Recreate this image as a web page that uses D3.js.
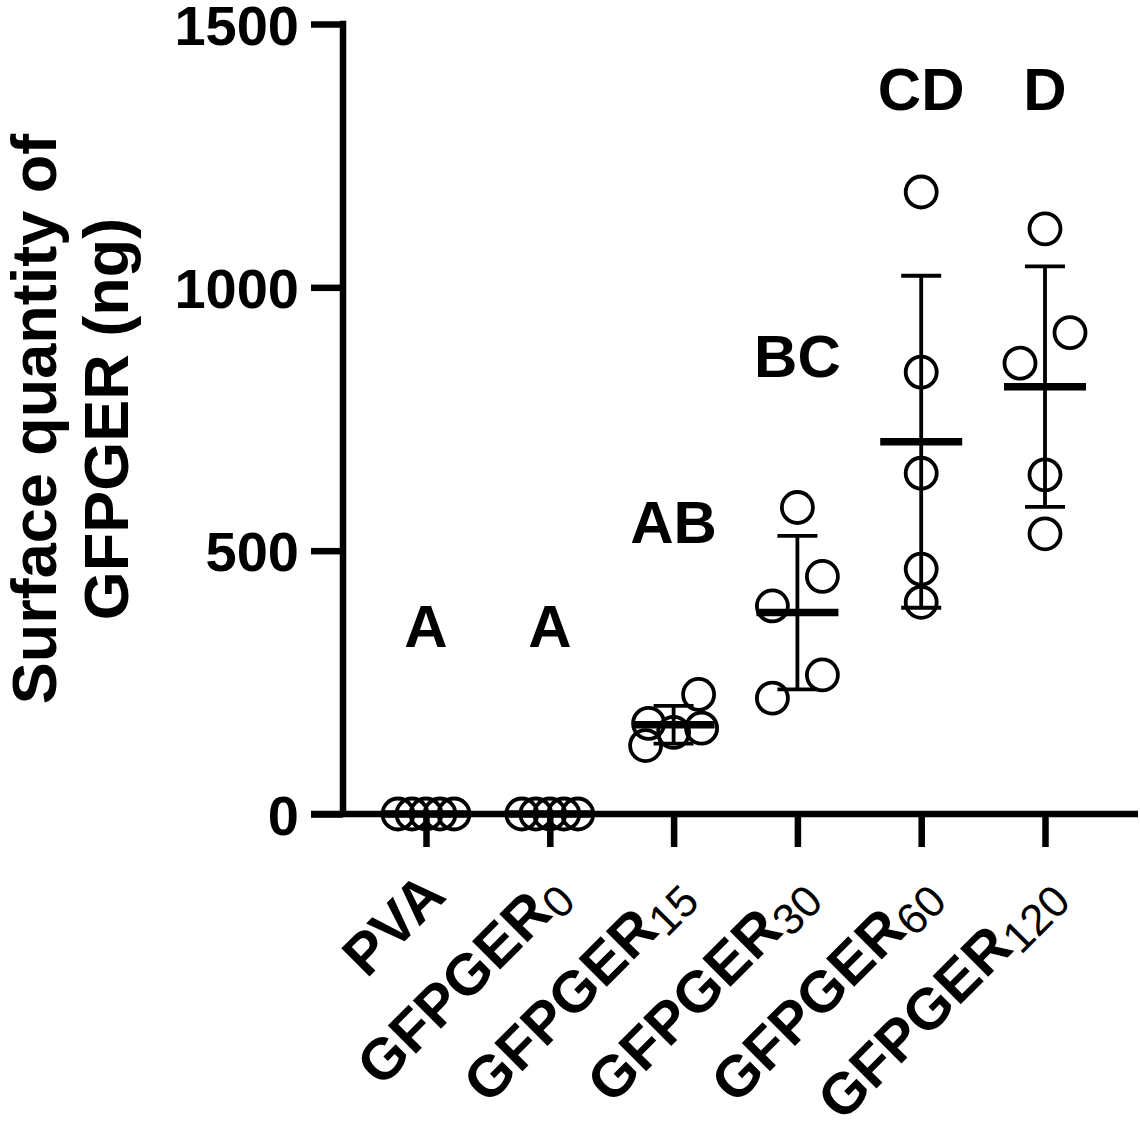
<!DOCTYPE html>
<html>
<head>
<meta charset="utf-8">
<script src="https://cdn.jsdelivr.net/npm/d3@7"></script>
<style>
  body { margin: 0; background: #fff; }
  svg { display: block; font-family: Arial, 'Liberation Sans', sans-serif; }
</style>
</head>
<body>
<svg width="1140" height="1126"></svg>
<script>
(function (d3) {
  'use strict';

  // groups and their replicate values (ng)
  const groupNames = ['PVA', 'GFPGER', 'GFPGER', 'GFPGER', 'GFPGER', 'GFPGER'];
  const groupSubs = ['', '0', '15', '30', '60', '120'];
  const pva = [0, 0, 0, 0, 0];
  const gfpger0 = [0, 0, 0, 0, 0];
  const gfpger15 = [227, 172, 163, 155, 130];
  const gfpger30 = [582, 451, 395, 264, 220];
  const gfpger60 = [1181, 839, 647, 465, 402];
  const gfpger120 = [1111, 914, 856, 644, 532];
  const sigLetters = ['A', 'A', 'AB', 'BC', 'CD', 'D'];
  const sigHeights = [317, 317, 514, 830, 1337, 1337];
  const yTicks = [0, 500, 1000, 1500];
  const yTitle = ['Surface quantity of', 'GFPGER (ng)'];

  const data = [pva, gfpger0, gfpger15, gfpger30, gfpger60, gfpger120]
    .map((values, i) => ({
      key: groupNames[i] + groupSubs[i],
      values,
      mean: d3.mean(values),
      sd: d3.deviation(values) || 0,
      letter: sigLetters[i],
      letterY: sigHeights[i]
    }));

  const svg = d3.select('svg');
  const axisW = 6.5;
  const lineW = 3.8;
  const r = 15.5;

  const xScale = d3.scalePoint()
    .domain(data.map(d => d.key))
    .range([426, 1045]);

  const yScale = d3.scaleLinear()
    .domain([0, 1500])
    .range([814, 24]);

  // spread points that sit at about the same height (prism-style scatter)
  const spread = values => {
    const order = d3.range(values.length)
      .sort((a, b) => values[b] - values[a]);
    const offsets = new Array(values.length).fill(0);
    let bin = [];
    const flush = () => {
      const n = bin.length;
      if (n > 1) {
        const step = Math.min(50, 56 / (n - 1));
        bin.forEach((idx, k) => {
          offsets[idx] = ((n - 1) / 2 - k) * step;
        });
      }
      bin = [];
    };
    order.forEach(idx => {
      if (bin.length && yScale(values[idx]) - yScale(values[bin[0]]) > 31.5) flush();
      bin.push(idx);
    });
    flush();
    return offsets;
  };

  // y axis
  const yAxisG = svg.append('g')
    .attr('class', 'y-axis')
    .attr('transform', 'translate(343,0)')
    .call(d3.axisLeft(yScale)
      .tickValues(yTicks)
      .tickFormat(d3.format('d'))
      .tickSize(32)
      .tickSizeOuter(0)
      .tickPadding(12));

  yAxisG.select('.domain')
    .attr('stroke', '#000')
    .attr('stroke-width', axisW)
    .attr('d', `M0,${yScale(0)}V${yScale(1500) - axisW / 2}`);
  yAxisG.selectAll('.tick line')
    .attr('stroke', '#000')
    .attr('stroke-width', axisW);
  yAxisG.selectAll('.tick text')
    .attr('fill', '#000')
    .attr('font-size', 56)
    .attr('font-weight', 'bold')
    .attr('dy', '0.36em');

  // x axis
  svg.append('line')
    .attr('x1', 311)
    .attr('x2', 1138)
    .attr('y1', yScale(0))
    .attr('y2', yScale(0))
    .attr('stroke', '#000')
    .attr('stroke-width', axisW);

  const xAxisG = svg.append('g')
    .attr('class', 'x-axis')
    .attr('transform', `translate(0,${yScale(0)})`)
    .call(d3.axisBottom(xScale).tickSize(33).tickSizeOuter(0));

  xAxisG.select('.domain').remove();
  xAxisG.selectAll('.tick line')
    .attr('stroke', '#000')
    .attr('stroke-width', axisW);
  xAxisG.selectAll('.tick text').remove();

  const xLabels = svg.append('g')
    .selectAll('text')
    .data(data)
    .enter().append('text')
    .attr('text-anchor', 'end')
    .attr('font-size', 58)
    .attr('font-weight', 'bold')
    .attr('fill', '#000')
    .attr('transform', d => `translate(${xScale(d.key) + 22},898) rotate(-45)`);

  xLabels.append('tspan')
    .text((d, i) => groupNames[i]);
  xLabels.append('tspan')
    .attr('font-size', 44)
    .attr('font-weight', 'normal')
    .attr('dy', 8)
    .text((d, i) => groupSubs[i]);

  // y axis title
  svg.append('text')
    .attr('transform', `translate(0,${(yScale(0) + yScale(1500)) / 2}) rotate(-90)`)
    .attr('text-anchor', 'middle')
    .attr('font-size', 63)
    .attr('font-weight', 'bold')
    .attr('fill', '#000')
    .selectAll('tspan')
    .data(yTitle)
    .enter().append('tspan')
    .attr('x', 0)
    .attr('y', (d, i) => 56 + i * 72)
    .text(d => d);

  // groups
  const groups = svg.append('g')
    .selectAll('g')
    .data(data)
    .enter().append('g')
    .attr('transform', d => `translate(${xScale(d.key)},0)`);

  groups.each(function (d) {
    const g = d3.select(this);
    const offs = spread(d.values);

    g.selectAll('circle')
      .data(d.values)
      .enter().append('circle')
      .attr('cx', (v, i) => offs[i])
      .attr('cy', v => yScale(v))
      .attr('r', r)
      .attr('fill', 'none')
      .attr('stroke', '#000')
      .attr('stroke-width', lineW);

    const hi = yScale(d.mean + d.sd);
    const lo = yScale(d.mean - d.sd);
    g.append('line')
      .attr('x1', 0).attr('x2', 0)
      .attr('y1', hi).attr('y2', lo)
      .attr('stroke', '#000')
      .attr('stroke-width', lineW);
    [hi, lo].forEach(yy => {
      g.append('line')
        .attr('x1', -20).attr('x2', 20)
        .attr('y1', yy).attr('y2', yy)
        .attr('stroke', '#000')
        .attr('stroke-width', lineW);
    });
    g.append('line')
      .attr('x1', -41).attr('x2', 41)
      .attr('y1', yScale(d.mean)).attr('y2', yScale(d.mean))
      .attr('stroke', '#000')
      .attr('stroke-width', 7.5);

    g.append('text')
      .attr('text-anchor', 'middle')
      .attr('y', yScale(d.letterY))
      .attr('font-size', 60)
      .attr('font-weight', 'bold')
      .attr('fill', '#000')
      .text(d.letter);
  });

}(d3));
</script>
</body>
</html>
